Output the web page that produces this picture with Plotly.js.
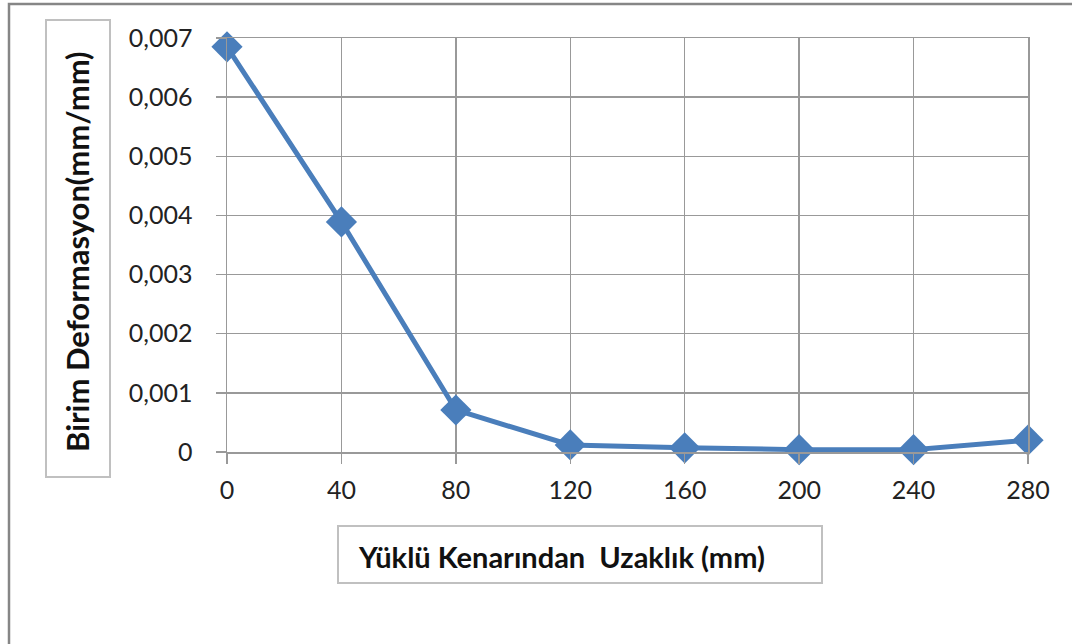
<!DOCTYPE html>
<html>
<head>
<meta charset="utf-8">
<script src="https://cdn.plot.ly/plotly-3.0.1.min.js"></script>
<style>
  html, body { margin: 0; padding: 0; background: #ffffff; }
  #chart { width: 1072px; height: 644px; }
</style>
</head>
<body>
<div id="chart"></div>
<script>
// Distance from the loaded edge (mm) and unit strain (mm/mm)
const distances = [0, 40, 80, 120, 160, 200, 240, 280];
const strains = [0.00685, 0.00389, 0.00071, 0.00012, 0.00007, 0.00004, 0.00004, 0.00020];

const xTickVals = [0, 40, 80, 120, 160, 200, 240, 280];
const yTickVals = [0, 0.001, 0.002, 0.003, 0.004, 0.005, 0.006, 0.007];
const yTickLabels = ['0', '0,001', '0,002', '0,003', '0,004', '0,005', '0,006', '0,007'];

const xTitle = 'Yüklü Kenarından  Uzaklık (mm)';
const yTitle = 'Birim Deformasyon(mm/mm)';

// Page geometry in pixels
const W = 1072, H = 644;
const plotL = 227, plotR = 1028, plotT = 38, plotB = 452;
const px = v => (v - plotL) / (plotR - plotL);
const py = v => (plotB - v) / (plotB - plotT);

const gridGray = '#999999';
const fontFam = 'Lato, "Noto Sans", "DejaVu Sans", sans-serif';

const trace = {
  x: distances,
  y: strains,
  type: 'scatter',
  mode: 'lines+markers',
  line: { color: '#4a7ebb', width: 5 },
  marker: { symbol: 'diamond', size: 24, color: '#4a7ebb', line: { width: 0 } },
  cliponaxis: false,
  hoverinfo: 'x+y'
};

const layout = {
  width: W,
  height: H,
  margin: { l: plotL, r: W - plotR, t: plotT, b: H - plotB, pad: 0 },
  paper_bgcolor: '#ffffff',
  plot_bgcolor: '#ffffff',
  showlegend: false,
  font: { family: fontFam, color: '#222222', size: 25 },
  xaxis: {
    range: [0, 280],
    tickvals: xTickVals,
    ticktext: xTickVals.map(String),
    showgrid: true,
    gridcolor: gridGray,
    gridwidth: 1.5,
    zeroline: false,
    showline: true,
    mirror: true,
    linecolor: gridGray,
    linewidth: 1.5,
    ticks: 'outside',
    ticklen: 10,
    tickwidth: 1.5,
    tickcolor: gridGray,
    ticklabelstandoff: 5,
    tickfont: { family: fontFam, size: 25, color: '#222222' }
  },
  yaxis: {
    range: [0, 0.007],
    tickvals: yTickVals,
    ticktext: yTickLabels,
    showgrid: true,
    gridcolor: gridGray,
    gridwidth: 1.5,
    zeroline: false,
    showline: true,
    mirror: true,
    linecolor: gridGray,
    linewidth: 1.5,
    ticks: 'outside',
    ticklen: 10,
    tickwidth: 1.5,
    tickcolor: gridGray,
    ticklabelstandoff: 18,
    tickfont: { family: fontFam, size: 25, color: '#222222' }
  },
  shapes: [
    // outer chart frame
    { type: 'rect', xref: 'paper', yref: 'paper',
      x0: px(9), x1: px(1090), y0: py(4), y1: py(660),
      line: { color: '#868686', width: 2.5 }, fillcolor: 'rgba(0,0,0,0)', layer: 'below' },
    // y title box
    { type: 'rect', xref: 'paper', yref: 'paper',
      x0: px(46), x1: px(110), y0: py(20), y1: py(477),
      line: { color: '#c0c0c0', width: 2 }, fillcolor: '#ffffff', layer: 'below' },
    // x title box
    { type: 'rect', xref: 'paper', yref: 'paper',
      x0: px(338), x1: px(822), y0: py(526), y1: py(583),
      line: { color: '#c0c0c0', width: 2 }, fillcolor: '#ffffff', layer: 'below' }
  ],
  annotations: [
    { text: '<b>' + yTitle + '</b>', xref: 'paper', yref: 'paper',
      x: px(77), y: py(252), xanchor: 'center', yanchor: 'middle',
      textangle: -90, showarrow: false,
      font: { family: fontFam, size: 31, color: '#111111' } },
    { text: '<b>' + xTitle + '</b>', xref: 'paper', yref: 'paper',
      x: px(561), y: py(556), xanchor: 'center', yanchor: 'middle',
      showarrow: false,
      font: { family: fontFam, size: 29, color: '#111111' } }
  ]
};

Plotly.newPlot('chart', [trace], layout, { displayModeBar: false, staticPlot: true });
</script>
</body>
</html>
